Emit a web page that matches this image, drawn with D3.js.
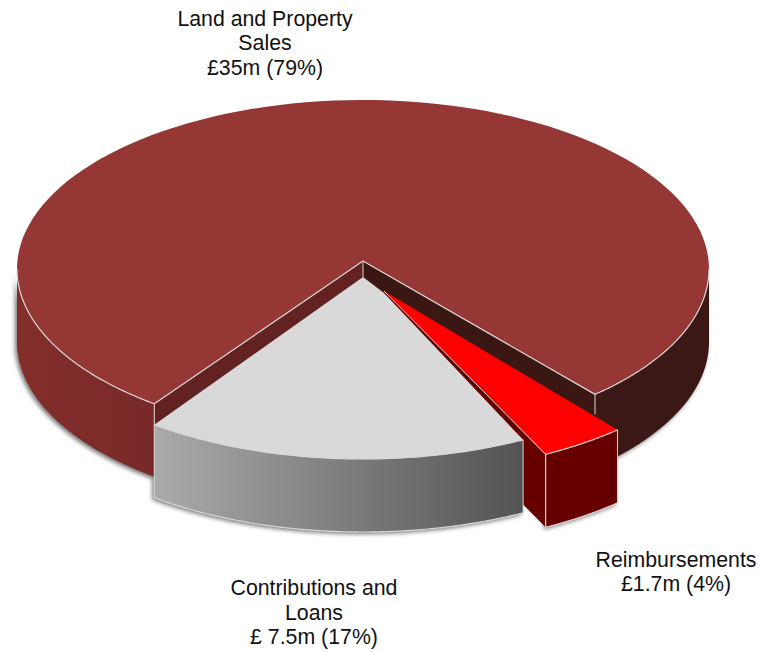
<!DOCTYPE html>
<html>
<head>
<meta charset="utf-8">
<script src="https://cdn.jsdelivr.net/npm/d3@7/dist/d3.min.js"></script>
<style>
html,body{margin:0;padding:0;background:#fff;}
svg{display:block;}
text{font-family:"Liberation Sans",Arial,sans-serif;font-size:21.3px;fill:#111;}
</style>
</head>
<body>
<svg id="c" width="762" height="652"></svg>
<script>
// clockwise from the left cut of the main slice
const categories = ["Land and Property Sales", "Reimbursements", "Contributions and Loans"];
const amounts = [35, 1.7, 7.5];
const labelLines = [
  ["Land and Property", "Sales", "£35m (79%)"],
  ["Reimbursements", "£1.7m (4%)"],
  ["Contributions and", "Loans", "£ 7.5m (17%)"]
];

const svg = d3.select("#c");
const rx = 346, ry = 169, depth = 73;
const deg = Math.PI / 180;
// perspective foreshortening of the disc, as drawn in the reference
const tilt = -0.06;
function warp(t, e = tilt) {
  const x = Math.sin(t), y = Math.cos(t);
  const d = 1 - e * y;
  const nx = x * Math.sqrt(1 - e * e) / d, ny = (y - e) / d;
  let r = Math.atan2(nx, ny);
  while (r < t - Math.PI) r += 2 * Math.PI;
  while (r > t + Math.PI) r -= 2 * Math.PI;
  return r;
}
const startTrue = warp(217.1 * deg, -tilt);
const arcs = d3.pie().sort(null).value(d => d)
  .startAngle(startTrue).endAngle(startTrue + 2 * Math.PI)(amounts)
  .map(a => ({a0: warp(a.startAngle), a1: warp(a.endAngle)}));

const layout = [
  {cx: 363, cy: 269, apexY: 261, apexX: 363},
  {cx: 385.5, cy: 304.5, apexY: 291, apexX: 384},
  {cx: 363, cy: 290, apexY: 277, apexX: 363}
];
const sx = d3.scaleLinear().domain([-1, 1]).range([-rx, rx]);
const sy = d3.scaleLinear().domain([-1, 1]).range([ry, -ry]);
const pt = (i, t, dy = 0) => [layout[i].cx + sx(Math.sin(t)), layout[i].cy + sy(Math.cos(t)) + dy];
const apex = (i, dy = 0) => [layout[i].apexX, layout[i].apexY + dy];
const sample = (a, b) => d3.range(0, 121).map(k => a + (b - a) * k / 120);
const line = d3.line();

const defs = svg.append("defs");
const blur = defs.append("filter").attr("id", "sh")
  .attr("x", "-10%").attr("y", "-10%").attr("width", "120%").attr("height", "130%");
blur.append("feGaussianBlur").attr("stdDeviation", 2.2);
function grad(id, x1, x2, stops) {
  const g = defs.append("linearGradient").attr("id", id)
    .attr("gradientUnits", "userSpaceOnUse")
    .attr("x1", x1).attr("x2", x2).attr("y1", 0).attr("y2", 0);
  stops.forEach(([o, c]) => g.append("stop").attr("offset", o).attr("stop-color", c));
}
grad("gMain", 17, 155, [[0, "#832e2b"], [1, "#782a28"]]);
grad("gGrey", 155, 524, [[0, "#aaaaaa"], [1, "#535353"]]);

const EDGE = "#dcd6d6";
function sideFace(i, a, b) {
  const ts = sample(a, b);
  return ts.map(t => pt(i, t)).concat(ts.slice().reverse().map(t => pt(i, t, depth)));
}
function topFace(i) {
  const {a0, a1} = arcs[i];
  return [apex(i)].concat(sample(a0, a1).map(t => pt(i, t)));
}
function wall(i, t) {
  return [apex(i), pt(i, t), pt(i, t, depth), apex(i, depth)];
}
function draw(points, fill, stroke, sw) {
  return svg.append("path").attr("d", line(points) + "Z").attr("fill", fill)
    .attr("stroke", stroke || "none").attr("stroke-width", sw || 0)
    .attr("stroke-linejoin", "round");
}
function seg(points, w = 1) {
  svg.append("path").attr("d", line(points)).attr("fill", "none")
    .attr("stroke", EDGE).attr("stroke-width", w);
}

const main = arcs[0], reimb = arcs[1], contrib = arcs[2];
const mainEnd = main.a1;               // right cut, past a full turn
const tau = 2 * Math.PI;

// soft shadows
const shadows = svg.append("g").attr("filter", "url(#sh)").attr("transform", "translate(-2,2)")
  .attr("fill", "#777");
[
  sideFace(0, 270 * deg, main.a0 + 0),
  sideFace(0, 90 * deg, mainEnd - tau),
  sideFace(2, contrib.a0, contrib.a1),
  sideFace(1, reimb.a0, reimb.a1)
].forEach(p => shadows.append("path").attr("d", line(p) + "Z"));

// main slice: outer side and inner walls
draw(sideFace(0, main.a0, 270 * deg), "url(#gMain)");
draw(sideFace(0, mainEnd - tau, 90 * deg), "#3b1715");
draw(wall(0, main.a0), "#622221");
draw(wall(0, mainEnd), "#3b1714");
draw(topFace(0), "#943735");
seg([apex(0), pt(0, main.a0)], 1.2);
seg([apex(0), pt(0, mainEnd)], 1.2);
seg(sample(main.a0, 270 * deg).map(t => pt(0, t)), 1.2);
seg(sample(mainEnd - tau, 90 * deg).map(t => pt(0, t)), 1.2);
seg([apex(0), apex(2)], 1);
seg([pt(0, main.a0), pt(0, main.a0, 22)], 1);
seg([pt(0, mainEnd), pt(0, mainEnd, 20)], 1);

// reimbursements: the cut wall sits behind the contributions slice
draw(wall(1, reimb.a1), "#660000");

// contributions slice; its top reaches up to the tip of the reimbursements slice
draw(sideFace(2, contrib.a0, contrib.a1), "url(#gGrey)");
const greyTop = topFace(2);
greyTop.splice(1, 0, apex(1, 2));
draw(greyTop, "#d9d9d9");
seg(sample(contrib.a0, contrib.a1).map(t => pt(2, t)), 1.2);
seg(sample(contrib.a0, contrib.a1).map(t => pt(2, t, depth)), 1.2);
seg([pt(2, contrib.a0), pt(2, contrib.a0, depth)], 1);
seg([pt(2, contrib.a1), pt(2, contrib.a1, depth)], 1);

// reimbursements slice
draw(sideFace(1, reimb.a0, reimb.a1), "#660000");
draw(topFace(1), "#ff0000");
seg([apex(1), pt(1, reimb.a1)], 1);
seg(sample(reimb.a0, reimb.a1).map(t => pt(1, t)), 1.2);
seg(sample(reimb.a0, reimb.a1).map(t => pt(1, t, depth)), 1.2);
seg([pt(1, reimb.a0), pt(1, reimb.a0, depth)], 1);
seg([pt(1, reimb.a1), pt(1, reimb.a1, depth)], 1.2);

// labels
const labelPos = [
  {x: 265, y: 25.5},
  {x: 676, y: 566.5},
  {x: 314, y: 595}
];
labelLines.forEach((lines, i) => {
  const t = svg.append("text").attr("text-anchor", "middle")
    .attr("data-category", categories[i]);
  lines.forEach((s, k) => t.append("tspan")
    .attr("x", labelPos[i].x).attr("y", labelPos[i].y + k * 24.5).text(s));
});
</script>
</body>
</html>
